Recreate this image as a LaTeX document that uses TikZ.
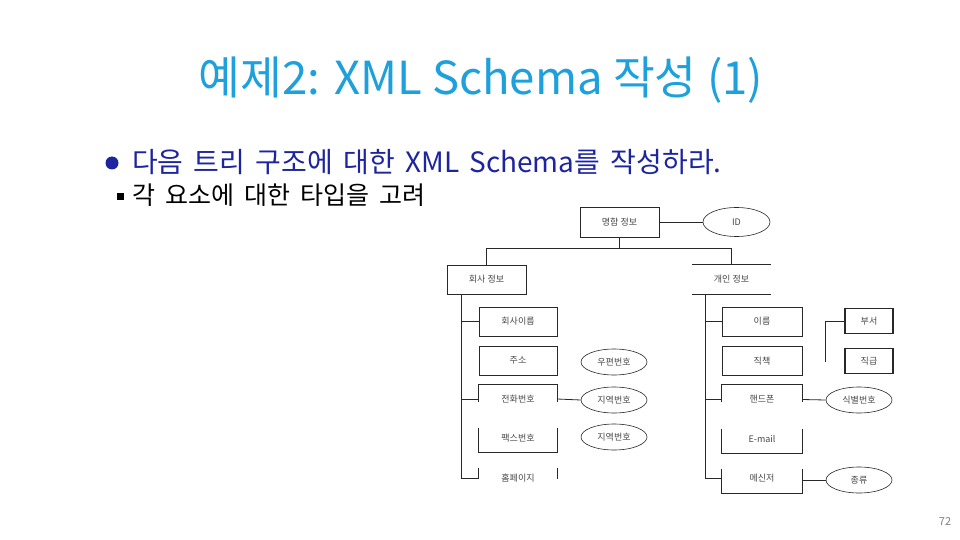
\documentclass[tikz,border=0pt]{standalone}
\usepackage{fontspec}
\setmainfont{Noto Sans CJK KR}
\usetikzlibrary{shapes.geometric}
\definecolor{titlec}{RGB}{29,160,220}
\definecolor{bodyc}{RGB}{28,36,160}
\definecolor{linec}{RGB}{40,40,40}
\definecolor{labc}{RGB}{70,70,70}
\tikzset{
  box/.style={draw=linec, line width=0.8pt, minimum width=78pt, minimum height=29pt, inner sep=0pt, font=\fontsize{9}{10}\selectfont, text=labc},
  obox/.style={minimum width=78pt, minimum height=29pt, inner sep=0pt, font=\fontsize{9}{10}\selectfont, text=labc},
  sbox/.style={draw=linec, line width=1.1pt, minimum width=48pt, minimum height=25pt, inner sep=0pt, font=\fontsize{9}{10}\selectfont, text=labc},
  attr/.style={draw=linec, line width=0.6pt, ellipse, minimum width=66pt, minimum height=26pt, inner sep=0pt, font=\fontsize{9}{10}\selectfont, text=labc},
  conn/.style={draw=linec, line width=0.8pt},
  edge/.style={draw=linec, line width=0.8pt}
}
\begin{document}
\begin{tikzpicture}[x=1pt,y=-1pt]
\useasboundingbox (0,0) rectangle (960,540);
% title and text
\node[text=titlec, font=\fontsize{45.5}{50}\selectfont, anchor=center] (title) at (481,80) {예제2: XML Schema 작성 (1)};
\fill[bodyc] (112,163) circle (6.5);
\node[text=bodyc, font=\fontsize{28}{30}\selectfont, anchor=west, inner sep=0pt] (b1) at (132,162) {\spaceskip=10.3pt 다음 트리 구조에 대한 XML Schema를 작성하라.};
\fill[black] (117,193) rectangle (124,200);
\node[text=black, font=\fontsize{25}{27}\selectfont, anchor=west, inner sep=0pt] (b2) at (132,195) {\spaceskip=10pt 각 요소에 대한 타입을 고려};
\node[text=gray, font=\fontsize{11}{12}\selectfont] (pg) at (945,522) {72};

% top level
\node[box, minimum width=79pt, minimum height=30pt] (root) at (619.5,222) {명함 정보};
\node[attr, minimum width=67pt, minimum height=29pt] (id) at (736.5,222) {ID};
\node[box, minimum width=79pt] (co) at (486.5,279.5) {회사 정보};
\node[obox, minimum width=79pt] (pe) at (731.5,279.5) {개인 정보};
\draw[edge] (pe.north west) -- (pe.north east);
\draw[edge] (pe.south west) -- (pe.south east);

\coordinate (bar) at (0,248);
\draw[conn] (root.east) -- (id.west);
\draw[conn] (root.south) -- (root.south |- bar);
\draw[conn] (co.north) -- (co.north |- bar) -- (pe.north |- bar) -- (pe.north);

% left column
\node[box] (cname) at (518,321.5) {회사이름};
\node[box] (addr) at (518,360.5) {주소};
\node[obox] (tel) at (518,399) {전화번호};
\node[obox] (fax) at (518,438) {팩스번호};
\node[obox] (home) at (518,478) {홈페이지};
\draw[edge] ([yshift=12pt]tel.south west) -- (tel.north west) -- (tel.north east) -- ([yshift=12pt]tel.south east);
\draw[edge] ([yshift=-5pt]fax.north west) -- (fax.south west) -- (fax.south east) -- ([yshift=-5pt]fax.north east);
\draw[edge] ([yshift=-5pt]home.north west) -- ([yshift=14pt]home.south west);
\draw[edge] ([yshift=-5pt]home.north east) -- ([yshift=14pt]home.south east);

\node[attr] (zip) at (614,362) {우편번호};
\node[attr] (area1) at (614,400) {지역번호};
\node[attr] (area2) at (614,437) {지역번호};

\coordinate (lt) at ([xshift=14.5pt]co.south west);
\draw[conn] (lt) |- (home.west);
\draw[conn] (lt |- cname.west) -- (cname.west);
\draw[conn] (lt |- tel.west) -- (tel.west);
\draw[conn] (tel.east) -- (area1.west);

% right column
\node[box, minimum width=80pt] (name) at (762,321.5) {이름};
\node[box, minimum width=80pt] (pos) at (762,361) {직책};
\node[obox, minimum width=80pt] (hp) at (762,399.5) {핸드폰};
\node[obox, minimum width=80pt] (email) at (762,438.5) {E-mail};
\node[obox, minimum width=80pt] (msg) at (762,478.5) {메신저};
\draw[edge] ([yshift=12pt]hp.south west) -- (hp.north west) -- (hp.north east) -- ([yshift=12pt]hp.south east);
\draw[edge] ([yshift=-5pt]email.north west) -- (email.south west) -- (email.south east) -- ([yshift=-5pt]email.north east);
\draw[edge] ([yshift=-5pt]msg.north west) -- (msg.south west) -- (msg.south east) -- ([yshift=-5pt]msg.north east);

\node[attr] (idn) at (859,400) {식별번호};
\node[attr] (kind) at (859,480) {종류};

\coordinate (rt) at ([xshift=13.5pt]pe.south west);
\draw[conn] (rt) |- (msg.west);
\draw[conn] (rt |- name.west) -- (name.west);
\draw[conn] (rt |- hp.west) -- (hp.west);
\draw[conn] (hp.east) -- (idn.west);
\draw[conn] (msg.east |- kind.west) -- (kind.west);

% dept / rank
\node[sbox] (dept) at (869,321) {부서};
\node[sbox] (rank) at (869,361) {직급};
\coordinate (dend) at (825,362);
\draw[conn] (dept.west) -| (dend);
\end{tikzpicture}
\end{document}
